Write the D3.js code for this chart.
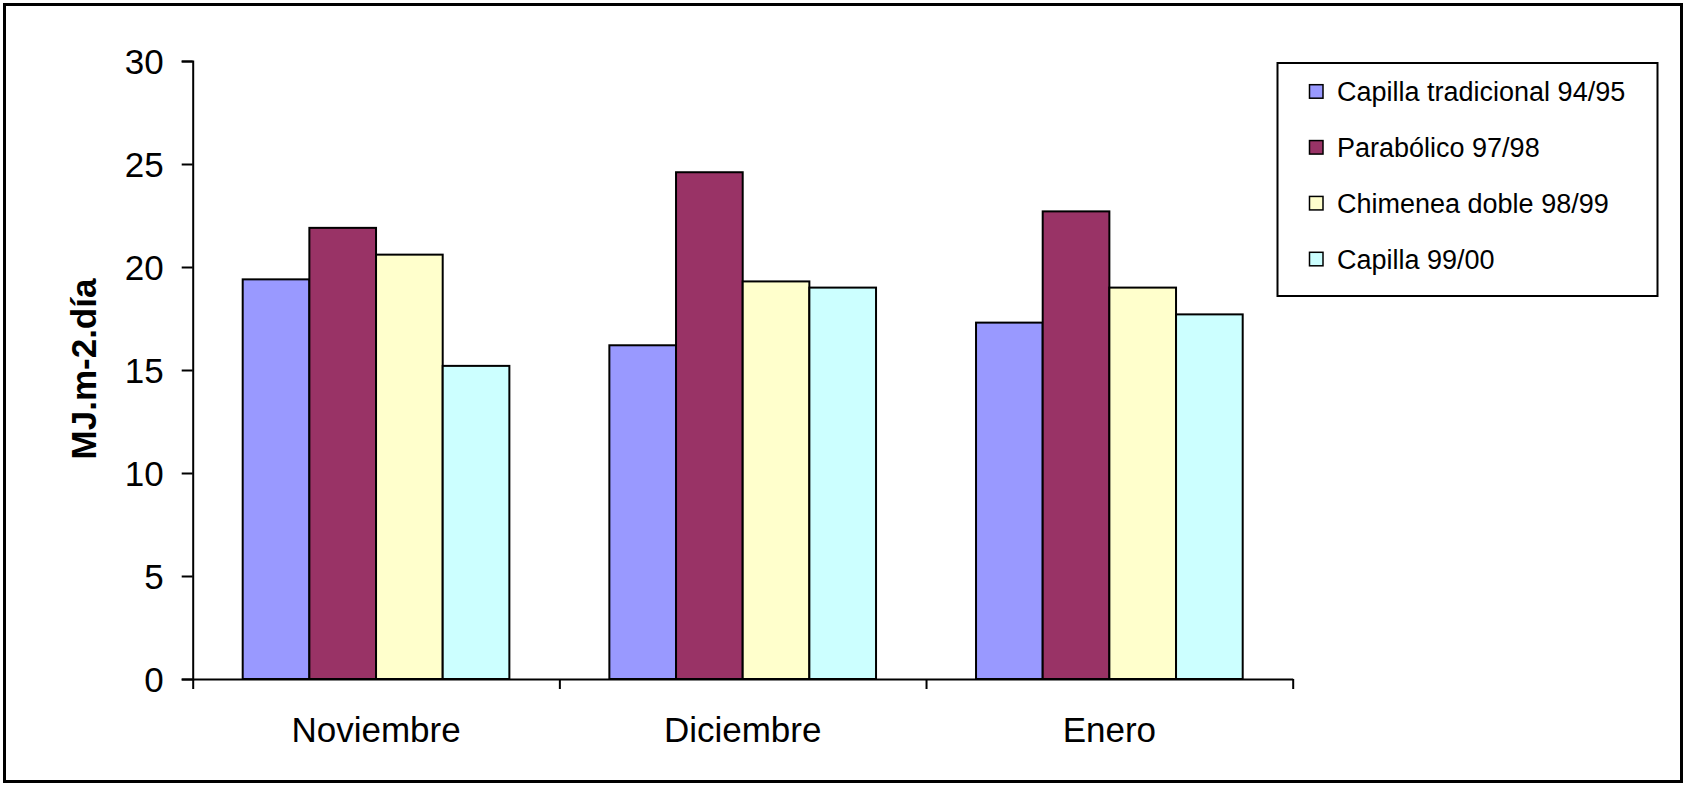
<!DOCTYPE html>
<html>
<head>
<meta charset="utf-8">
<script src="https://cdn.jsdelivr.net/npm/d3@7"></script>
<style>
  html, body { margin: 0; padding: 0; background: #fff; }
  svg { display: block; }
  text { font-family: "Liberation Sans", Arial, sans-serif; fill: #000; }
</style>
</head>
<body>
<svg id="chart" width="1688" height="785"></svg>
<script>
// ---- data ----
const categories = ["Noviembre", "Diciembre", "Enero"];
const seriesNames = ["Capilla tradicional 94/95", "Parabólico 97/98", "Chimenea doble 98/99", "Capilla 99/00"];
const capillaTradicional = [19.4, 16.2, 17.3];
const parabolico = [21.9, 24.6, 22.7];
const chimeneaDoble = [20.6, 19.3, 19.0];
const capilla9900 = [15.2, 19.0, 17.7];
const yTicks = [0, 5, 10, 15, 20, 25, 30];
const yTitle = "MJ.m-2.día";
const colors = ["#9999FF", "#993366", "#FFFFCC", "#CCFFFF"];

const seriesValues = [capillaTradicional, parabolico, chimeneaDoble, capilla9900];

(function () {
const svg = d3.select("#chart");

// outer frame
svg.append("rect")
  .attr("x", 4.5).attr("y", 4.5).attr("width", 1677).attr("height", 777)
  .attr("fill", "#fff").attr("stroke", "#000").attr("stroke-width", 3);

const pLeft = 192.7, pRight = 1292.7, pTop = 61, pBottom = 679;

const y = d3.scaleLinear().domain([0, 30]).range([pBottom, pTop]);
const x0 = d3.scaleBand().domain(categories).range([pLeft, pRight]).padding(0);
const x1 = d3.scaleBand().domain(seriesNames).range([0, x0.bandwidth()])
  .paddingInner(0).paddingOuter(0.75);

// bars
const rows = [];
categories.forEach((c, ci) => {
  seriesNames.forEach((s, si) => {
    rows.push({ c, s, si, v: seriesValues[si][ci] });
  });
});
svg.append("g").selectAll("rect")
  .data(rows).join("rect")
  .attr("x", d => x0(d.c) + x1(d.s))
  .attr("y", d => y(d.v))
  .attr("width", x1.bandwidth())
  .attr("height", d => y(0) - y(d.v))
  .attr("fill", d => colors[d.si])
  .attr("stroke", "#000")
  .attr("stroke-width", 2);

// y axis
const yAxis = svg.append("g")
  .attr("transform", `translate(${pLeft},0)`)
  .call(d3.axisLeft(y).tickValues(yTicks).tickSize(11).tickPadding(18).tickFormat(d3.format("d")));
yAxis.select(".domain").attr("stroke", "#000").attr("stroke-width", 2);
yAxis.selectAll(".tick line").attr("stroke", "#000").attr("stroke-width", 2);
yAxis.selectAll(".tick text")
  .attr("font-size", 35)
  .attr("font-family", '"Liberation Sans", Arial, sans-serif')
  .attr("fill", "#000")
  .attr("dy", "0.35em");

// x axis: line with ticks at category boundaries
const xIdx = d3.scaleLinear().domain([0, categories.length]).range([pLeft, pRight]);
const xAxis = svg.append("g")
  .attr("transform", `translate(0,${pBottom})`)
  .call(d3.axisBottom(xIdx).tickValues(d3.range(categories.length + 1)).tickSize(10).tickSizeOuter(0).tickFormat(""));
xAxis.select(".domain").attr("stroke", "#000").attr("stroke-width", 2);
xAxis.selectAll(".tick line").attr("stroke", "#000").attr("stroke-width", 2);

// category labels
svg.append("g").selectAll("text")
  .data(categories).join("text")
  .attr("x", d => x0(d) + x0.bandwidth() / 2)
  .attr("y", 742)
  .attr("text-anchor", "middle")
  .attr("font-size", 35)
  .text(d => d);

// y title
svg.append("text")
  .attr("transform", "translate(96,369) rotate(-90)")
  .attr("text-anchor", "middle")
  .attr("font-size", 35)
  .attr("font-weight", "bold")
  .text(yTitle);

// legend
const lg = svg.append("g");
lg.append("rect")
  .attr("x", 1277.5).attr("y", 63).attr("width", 380).attr("height", 233)
  .attr("fill", "#fff").attr("stroke", "#000").attr("stroke-width", 2);
const ly = d3.scalePoint().domain(seriesNames).range([91.7, 259.3]);
const items = lg.selectAll("g.item").data(seriesNames).join("g").attr("class", "item");
items.append("rect")
  .attr("x", 1309.5).attr("y", d => ly(d) - 7)
  .attr("width", 13.5).attr("height", 13.5)
  .attr("fill", (d, i) => colors[i])
  .attr("stroke", "#000").attr("stroke-width", 1.5);
items.append("text")
  .attr("x", 1337).attr("y", d => ly(d))
  .attr("dy", "0.35em")
  .attr("font-size", 27)
  .text(d => d);
})();
</script>
</body>
</html>
